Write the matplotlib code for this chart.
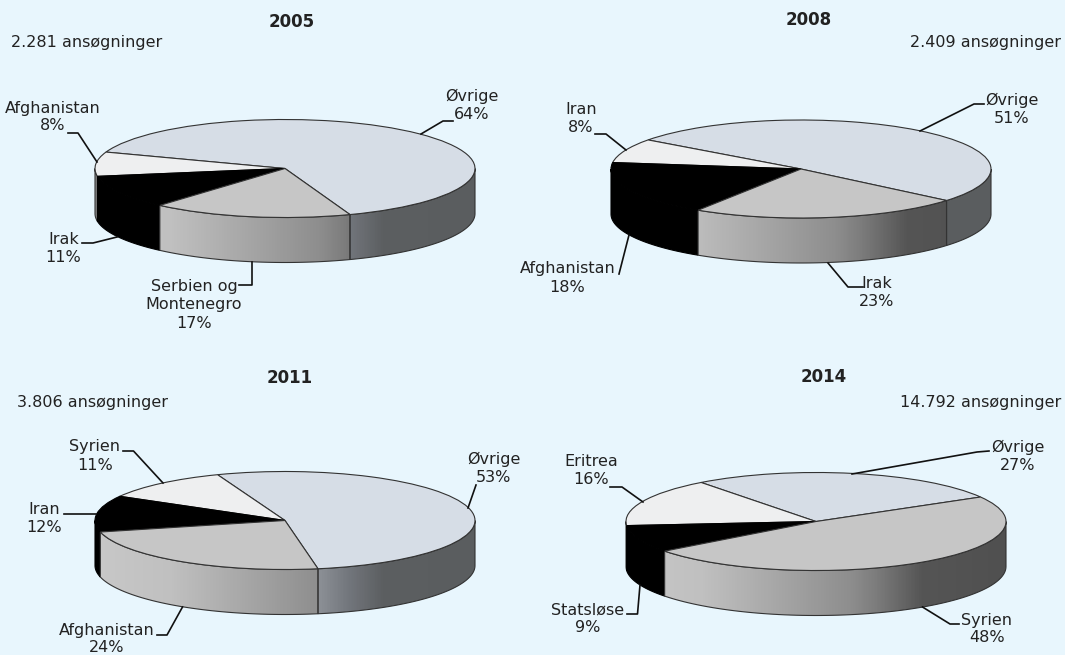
import numpy as np
import matplotlib
matplotlib.use("Agg")
import matplotlib.pyplot as plt
from matplotlib.colors import LinearSegmentedColormap
from matplotlib.lines import Line2D
from matplotlib.patches import Polygon

plt.rcParams['font.family'] = ['DejaVu Sans']

# ---- data
years = ["2005", "2008", "2011", "2014"]
counts = ["2.281 ansøgninger", "2.409 ansøgninger", "3.806 ansøgninger", "14.792 ansøgninger"]
labels_2005 = ["Øvrige", "Afghanistan", "Irak", "Serbien og\nMontenegro"]
values_2005 = [64, 8, 11, 17]
labels_2008 = ["Øvrige", "Iran", "Afghanistan", "Irak"]
values_2008 = [51, 8, 18, 23]
labels_2011 = ["Øvrige", "Syrien", "Iran", "Afghanistan"]
values_2011 = [53, 11, 12, 24]
labels_2014 = ["Øvrige", "Eritrea", "Statsløse", "Syrien"]
values_2014 = [27, 16, 9, 48]
all_labels = [labels_2005, labels_2008, labels_2011, labels_2014]
all_values = [values_2005, values_2008, values_2011, values_2014]

# ---- layout (pixels)
W, H = 1065, 655
BG = "#e8f6fd"
TOP = ["#d6dde6", "#eeeff0", "#000000", "#c6c6c6"]
EDGE = "#333333"
centers = [(285, 168.5), (801, 169), (285, 520.5), (816, 521.5)]
radii = [(190, 49), (190, 49), (190, 49), (190, 49)]
DEPTH = 45
starts = [-70, -40, -80, 30]
title_pos = [(292, 22), (808.5, 20), (290, 378), (824, 377.5)]
count_pos = [(11, 42, "left"), (1061, 42, "right"), (17, 403, "left"), (1061, 403, "right")]
label_pos = [
    [(472, 105), (53, 117), (63.5, 248), (194, 305)],
    [(1012, 109), (581, 118), (567.5, 278), (877, 292)],
    [(493.5, 468), (95, 456), (44.5, 519), (106.5, 639)],
    [(1018, 456), (591, 471), (588, 619), (987, 629)],
]
leaders = [
    [[(453, 121), (443, 121), (421, 134)], [(68, 133), (78, 133), (97, 162)],
     [(82, 243), (93, 243), (117, 237)], [(239, 285), (252, 285), (252, 262)]],
    [[(984, 104), (974, 104), (920, 131)], [(595, 134), (606, 134), (626, 150)],
     [(619, 274), (629, 235)], [(863, 287), (848, 287), (828, 263)]],
    [[(476, 485), (468, 508)], [(123, 451), (133.5, 451), (163, 483)],
     [(63.5, 514), (96, 514)], [(157, 635), (167, 635), (182.5, 607)]],
    [[(989, 451), (977, 452), (852, 474)], [(610, 487), (622, 487), (643, 502)],
     [(627, 614), (637.5, 614), (640, 585)], [(959, 624), (950, 624), (922.5, 607)]],
]
cmap_blue = LinearSegmentedColormap.from_list(
    "b", [(0, "#92969c"), (.55, "#92969c"), (.59, "#8c9096"), (.67, "#72767c"), (.76, "#5c5f61"), (1, "#5a5d5f")])
cmap_gray = LinearSegmentedColormap.from_list(
    "g", [(0, "#c8c8c8"), (.2, "#c0c0c0"), (.59, "#8e8e8e"), (.66, "#7c7c7c"), (.78, "#555555"), (1, "#505050")])
wall_cmaps = [cmap_blue, None, None, cmap_gray]
wall_solid = [None, "#8f8f8f", "#000000", None]
TEXT = "#222222"

fig = plt.figure(figsize=(W / 100, H / 100), dpi=100, facecolor=BG)


def fx(x):
    return x / W


def fy(y):
    return 1 - y / H


for i in range(4):
    cx, cy = centers[i]
    a, b = radii[i]
    d = DEPTH / b
    xm, ym = 1.05, 1.05
    yb = 1 + d + 0.05
    ax = fig.add_axes([fx(cx - xm * a), fy(cy + yb * b), 2 * xm * a / W, (ym + yb) * b / H])
    ax.set_facecolor("none")

    fr = np.array(all_values[i], float) / sum(all_values[i])
    edges = starts[i] + np.concatenate([[0], np.cumsum(fr) * 360])
    for k in range(len(fr)):
        lo, hi = edges[k], edges[k + 1]
        for shift in (0, 360, -360):
            l2, h2 = max(lo + shift, 180), min(hi + shift, 360)
            if h2 <= l2:
                continue
            t = np.radians(np.linspace(l2, h2, 80))
            xs, ys = np.cos(t), np.sin(t)
            poly = np.vstack([np.c_[xs, ys], np.c_[xs[::-1], ys[::-1] - d]])
            if wall_cmaps[k] is None:
                ec = "#000000" if wall_solid[k] == "#000000" else EDGE
                ax.add_patch(Polygon(poly, closed=True, fc=wall_solid[k], ec=ec, lw=0.8, zorder=1))
            else:
                grad = np.linspace(0, 1, 400).reshape(1, -1)
                im = ax.imshow(grad, cmap=wall_cmaps[k], vmin=0, vmax=1, aspect="auto",
                               extent=(-1, 1, -1 - d, 1), zorder=1)
                clip = Polygon(poly, closed=True, fc="none", ec=EDGE, lw=0.8, zorder=1.5)
                ax.add_patch(clip)
                im.set_clip_path(clip)

    wedges, _ = ax.pie(all_values[i], colors=TOP, startangle=starts[i], counterclock=True, radius=1,
                       wedgeprops=dict(edgecolor=EDGE, linewidth=0.8, zorder=2))
    wedges[2].set_edgecolor("#000000")
    ax.set_aspect("auto")
    ax.set_xlim(-xm, xm)
    ax.set_ylim(-yb, ym)
    ax.axis("off")

    tx, ty = title_pos[i]
    fig.text(fx(tx), fy(ty), years[i], ha="center", va="center", fontsize=12,
             fontweight="bold", color=TEXT)
    qx, qy, qa = count_pos[i]
    fig.text(fx(qx), fy(qy), counts[i], ha=qa, va="center", fontsize=11.5, color=TEXT)
    for k in range(4):
        lx, ly = label_pos[i][k]
        fig.text(fx(lx), fy(ly), f"{all_labels[i][k]}\n{all_values[i][k]}%", ha="center",
                 va="center", fontsize=11.5, color=TEXT, linespacing=1.25)
        pts = np.array(leaders[i][k], float)
        fig.add_artist(Line2D(fx(pts[:, 0]), fy(pts[:, 1]), color="#111111", lw=1.2,
                              transform=fig.transFigure))

fig.savefig("out.png", dpi=100, facecolor=BG)
